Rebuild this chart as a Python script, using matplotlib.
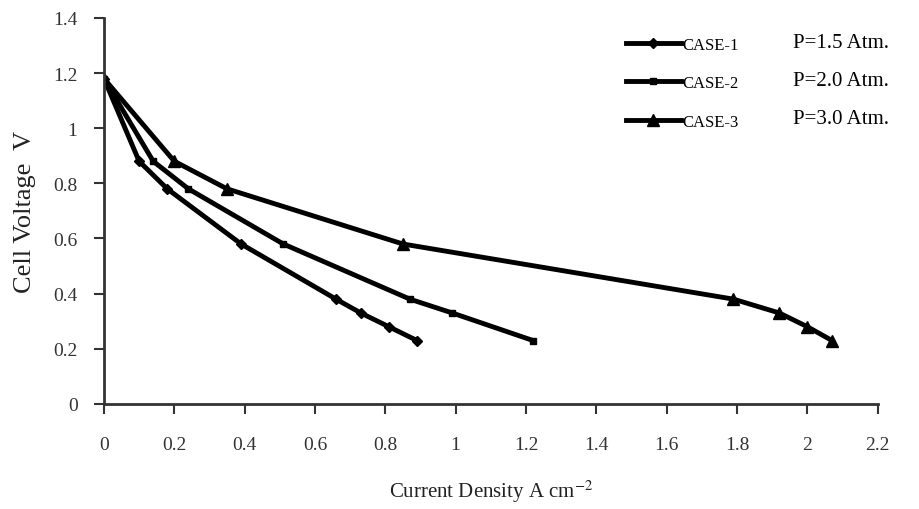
import matplotlib.pyplot as plt

# data
case1_x = [0, 0.10, 0.18, 0.39, 0.66, 0.73, 0.81, 0.89]
case1_y = [1.18, 0.88, 0.78, 0.58, 0.38, 0.33, 0.28, 0.23]
case2_x = [0, 0.14, 0.24, 0.51, 0.87, 0.99, 1.22]
case2_y = [1.18, 0.88, 0.78, 0.58, 0.38, 0.33, 0.23]
case3_x = [0, 0.20, 0.35, 0.85, 1.79, 1.92, 2.00, 2.07]
case3_y = [1.18, 0.88, 0.78, 0.58, 0.38, 0.33, 0.28, 0.23]

case_labels = ['CASE-1', 'CASE-2', 'CASE-3']
pressure_labels = ['P=1.5 Atm.', 'P=2.0 Atm.', 'P=3.0 Atm.']
x_ticks = [0, 0.2, 0.4, 0.6, 0.8, 1, 1.2, 1.4, 1.6, 1.8, 2, 2.2]
y_ticks = [0, 0.2, 0.4, 0.6, 0.8, 1, 1.2, 1.4]

plt.rcParams['font.family'] = ['Liberation Serif', 'DejaVu Serif']
plt.rcParams['mathtext.fontset'] = 'stix'

fig = plt.figure(figsize=(9.2, 5.1), dpi=100)
ax = fig.add_axes([0.113, 0.206, 0.841, 0.757])

ax.plot(case1_x, case1_y, color='black', lw=3.5, marker='D', ms=5, label=case_labels[0])
ax.plot(case2_x, case2_y, color='black', lw=3.5, marker='s', ms=4, label=case_labels[1])
ax.plot(case3_x, case3_y, color='black', lw=3.5, marker='^', ms=8, label=case_labels[2])

ax.set_xlim(0, 2.2)
ax.set_ylim(0, 1.4)
ax.set_xticks(x_ticks)
ax.set_xticklabels([f'{t:g}' for t in x_ticks])
ax.set_yticks(y_ticks)
ax.set_yticklabels([f'{t:g}' for t in y_ticks])
ax.tick_params(axis='x', direction='out', length=7, width=1.5, pad=16, labelsize=14, colors='#333333')
ax.tick_params(axis='y', direction='out', length=7, width=1.5, pad=12, labelsize=14, colors='#333333')
for s in ['top', 'right']:
    ax.spines[s].set_visible(False)
for s in ['left', 'bottom']:
    ax.spines[s].set_linewidth(2)
    ax.spines[s].set_color('#333333')

ax.set_xlabel('Current Density A cm$^{-2}$', fontsize=15, labelpad=18, color='#222222')
ax.set_ylabel('Cell Voltage  V', fontsize=19, labelpad=12, color='#222222')

leg = ax.legend(loc='upper left', bbox_to_anchor=(0.655, 0.99), frameon=False,
                fontsize=12, handlelength=3.3, handletextpad=0.1, labelspacing=1.35)

for i, p in enumerate(pressure_labels):
    fig.text(0.862, 0.915 - i * 0.075, p, fontsize=15, va='center')

fig.savefig('out.png', dpi=100)
